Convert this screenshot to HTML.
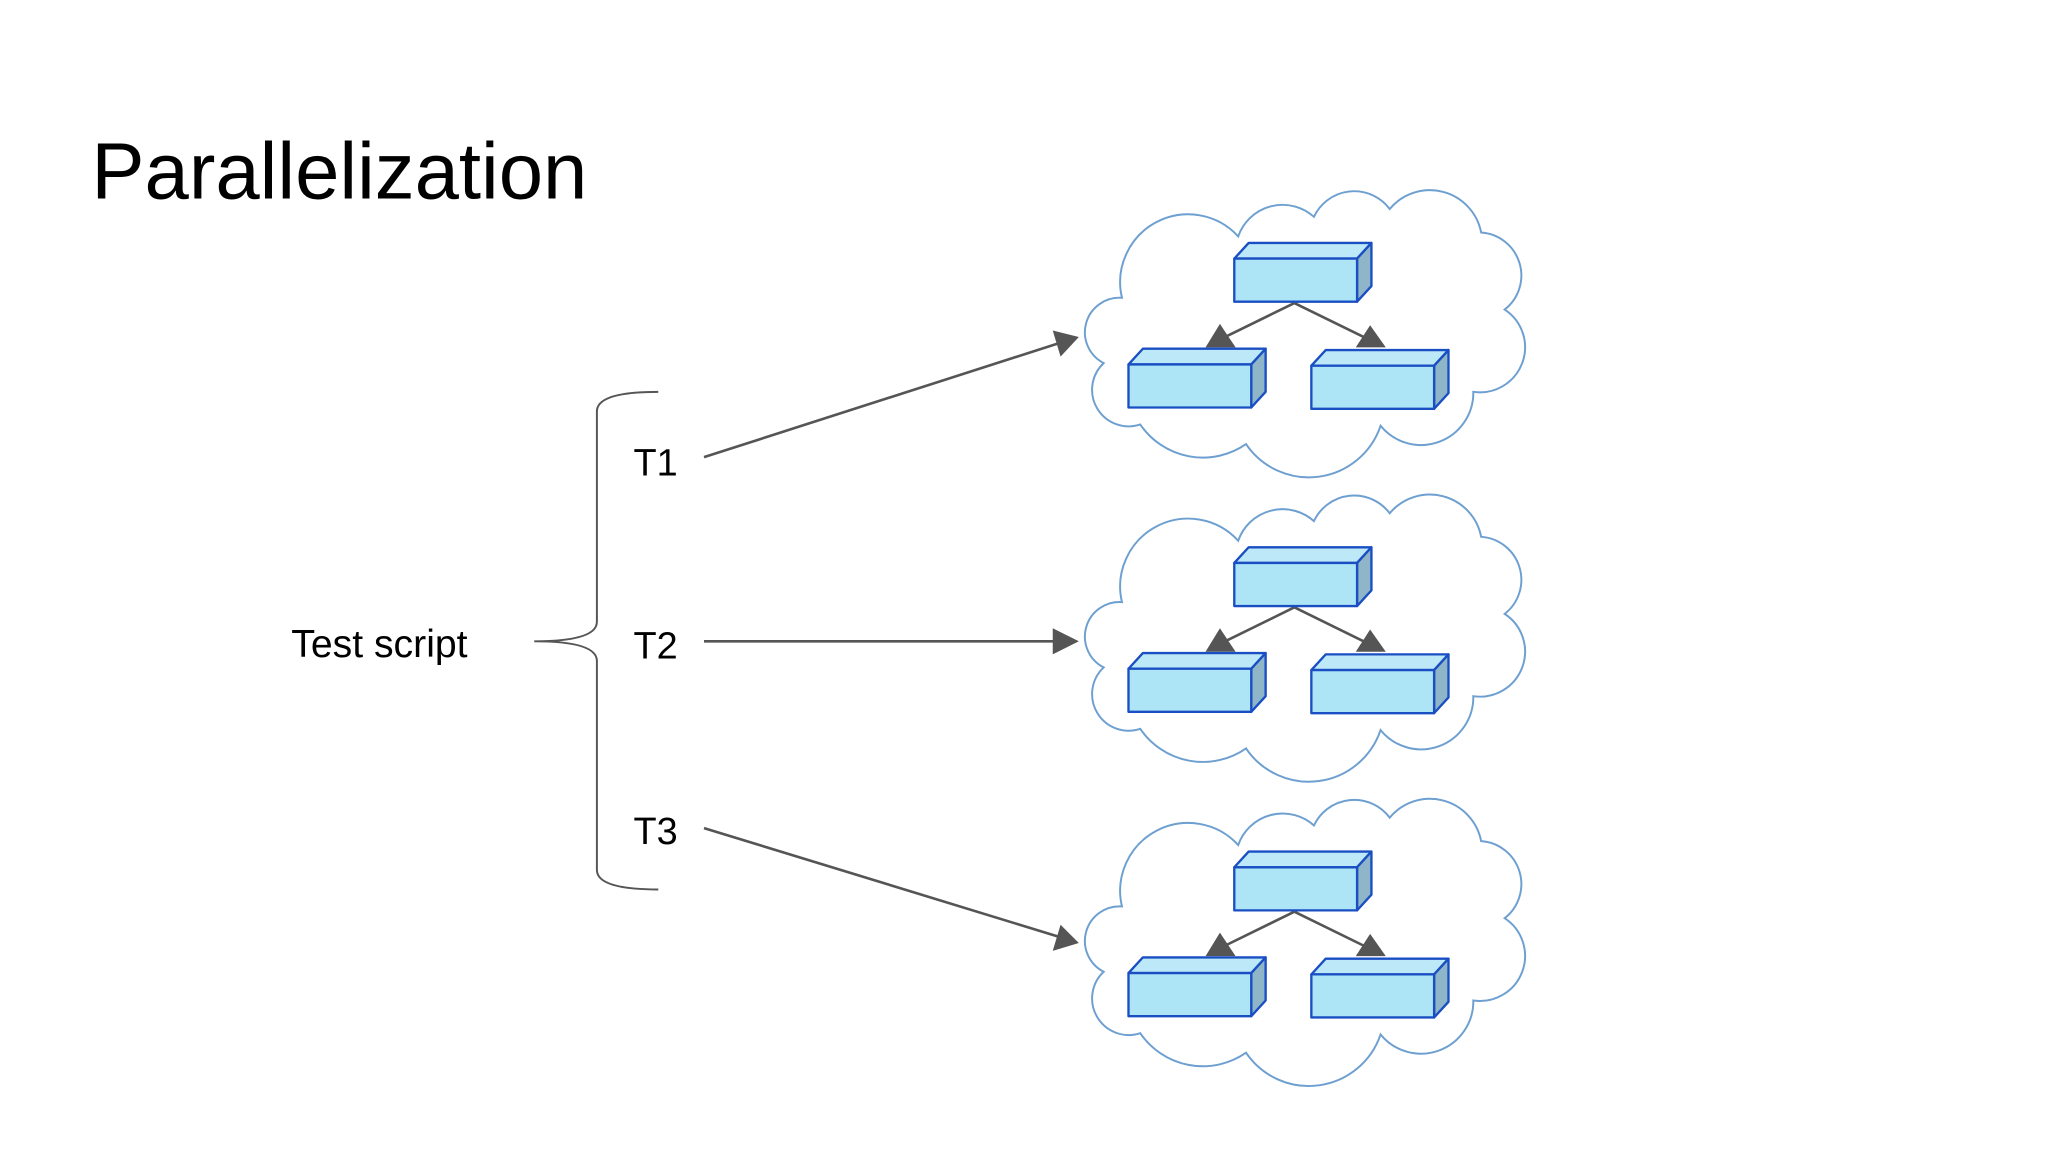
<!DOCTYPE html>
<html><head><meta charset="utf-8"><style>
html,body{margin:0;padding:0;background:#fff;}
svg{display:block;}
text{font-family:"Liberation Sans",Arial,sans-serif;fill:#000;}
</style></head><body>
<svg width="2048" height="1152" viewBox="0 0 1568 882" xmlns="http://www.w3.org/2000/svg">
<defs>
<g id="cloud">
<path d="M859,228 A52,52 0 0 1 948,181 A36,36 0 0 1 1006,166 A34,34 0 0 1 1064,160 A40,40 0 0 1 1134,178 A33,33 0 0 1 1152,237 A34.5,34.5 0 0 1 1128,300 A40,40 0 0 1 1057,326 A58,58 0 0 1 954,340 A58,58 0 0 1 873,325 A28,28 0 0 1 845,278 A26.5,26.5 0 0 1 859,228 Z" fill="#fff" stroke="#6d9fd0" stroke-width="1.5"/>
<line x1="991" y1="232" x2="938" y2="258" stroke="#555" stroke-width="2"/>
<line x1="991" y1="232" x2="1044" y2="258" stroke="#555" stroke-width="2"/>
<polygon points="934,248 923,266 946,266" fill="#555"/>
<polygon points="1049,249 1038,266 1061,266" fill="#555"/>
<g stroke="#1a4fc4" stroke-width="1.8" stroke-linejoin="round">
<polygon points="945,198 956,186 1050,186 1039,198" fill="#bde8f8"/>
<polygon points="1039,198 1050,186 1050,219 1039,231" fill="#8fb5c8"/>
<rect x="945" y="198" width="94" height="33" fill="#ade5f7"/>
<polygon points="864,279 875,267 969,267 958,279" fill="#bde8f8"/>
<polygon points="958,279 969,267 969,300 958,312" fill="#8fb5c8"/>
<rect x="864" y="279" width="94" height="33" fill="#ade5f7"/>
<polygon points="1004,280 1015,268 1109,268 1098,280" fill="#bde8f8"/>
<polygon points="1098,280 1109,268 1109,301 1098,313" fill="#8fb5c8"/>
<rect x="1004" y="280" width="94" height="33" fill="#ade5f7"/>
</g>
</g>
</defs>
<use href="#cloud"/>
<use href="#cloud" transform="translate(0,233)"/>
<use href="#cloud" transform="translate(0,466)"/>
<text x="70" y="152" font-size="61">Parallelization</text>
<text x="223" y="503" font-size="30">Test script</text>
<text x="485" y="364" font-size="29">T1</text>
<text x="485" y="504" font-size="29">T2</text>
<text x="485" y="646" font-size="29">T3</text>
<path d="M504,300 Q457,300 457,315 L457,476 Q457,491 409,491 Q457,491 457,506 L457,666 Q457,681 504,681" fill="none" stroke="#555" stroke-width="1.5"/>
<g stroke="#555" stroke-width="2" fill="#555">
<line x1="539" y1="350" x2="810" y2="263"/>
<polygon points="826,258 806,253 812,273" stroke="none"/>
<line x1="539" y1="491" x2="808" y2="491"/>
<polygon points="826,491 806,481 806,501" stroke="none"/>
<line x1="539" y1="634" x2="810" y2="717"/>
<polygon points="826,722 812,708 806,728" stroke="none"/>
</g>
</svg>
</body></html>
